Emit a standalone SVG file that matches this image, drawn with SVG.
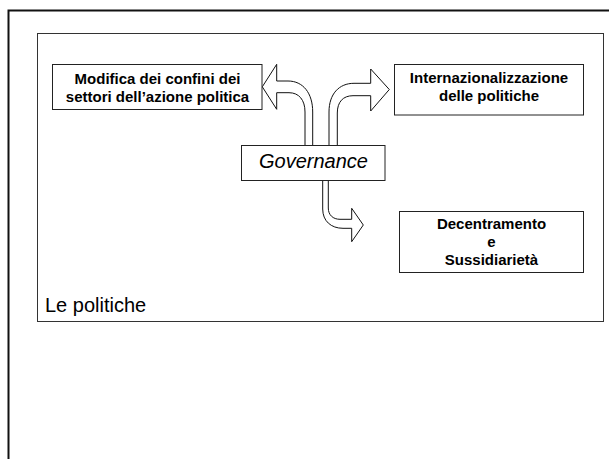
<svg xmlns="http://www.w3.org/2000/svg" width="609" height="459" viewBox="0 0 609 459">
<style>
.box{fill:#fff;stroke:#222;stroke-width:1}
.arrow{fill:#fff;stroke:#111;stroke-width:1;stroke-linejoin:miter}
.b{font-family:"Liberation Sans",Arial,sans-serif;font-weight:bold;font-size:15px;fill:#000;text-anchor:middle}
.gov{font-family:"Liberation Sans",Arial,sans-serif;font-style:italic;font-size:20px;fill:#000;text-anchor:middle}
.lbl{font-family:"Liberation Sans",Arial,sans-serif;font-size:20px;fill:#000}
</style>
<rect width="609" height="459" fill="#fff"/>
<g id="frame">
<rect x="8.5" y="10.5" width="700" height="500" fill="none" stroke="#111" stroke-width="2"/>
</g>
<g id="panel">
<rect x="37.5" y="33.5" width="566" height="288" fill="#fff" stroke="#333" stroke-width="1"/>
<text class="lbl" x="45" y="312.3">Le politiche</text>
</g>
<g id="connectors">
<path class="arrow" d="M312.7,145.5 L312.7,112 C312.7,93 303,81 288,81 L276.7,81 L276.7,64.3 L262.3,86.8 L276.7,109.3 L276.7,92.7 L289,92.7 C299,92.7 305,100 305,112 L305,145.5 Z"/>
<path class="arrow" d="M329,145.5 L329,112 C329,94 339,83.3 354,83.3 L370.7,83.3 L370.7,69 L389.3,89.5 L370.7,111 L370.7,95.7 L353,95.7 C343,95.7 337.3,102 337.3,113 L337.3,145.5 Z"/>
<path class="arrow" d="M322.7,180.5 L322.7,209 C322.7,221 331,228.3 343,228.3 L351.7,228.3 L351.7,241.7 L363.3,225 L351.7,208.3 L351.7,219.3 L340,219.3 C333,219.3 328.3,215 328.3,208 L328.3,180.5 Z"/>
</g>
<g id="node-modifica">
<rect class="box" x="52.5" y="64.5" width="209.5" height="45"/>
<text class="b" x="157.5" y="84">Modifica dei confini dei</text>
<text class="b" x="157.5" y="101.7">settori dell’azione politica</text>
</g>
<g id="node-internazionalizzazione">
<rect class="box" x="394.5" y="64.5" width="189" height="50.5"/>
<text class="b" x="489" y="82.5">Internazionalizzazione</text>
<text class="b" x="489" y="101">delle politiche</text>
</g>
<g id="node-governance">
<rect class="box" x="241.5" y="145.5" width="143.5" height="35"/>
<text class="gov" x="313.5" y="168.3">Governance</text>
</g>
<g id="node-decentramento">
<rect class="box" x="399.5" y="211.5" width="184" height="61"/>
<text class="b" x="491.5" y="229.3">Decentramento</text>
<text class="b" x="491.5" y="247">e</text>
<text class="b" x="491.5" y="265">Sussidiarietà</text>
</g>
</svg>
